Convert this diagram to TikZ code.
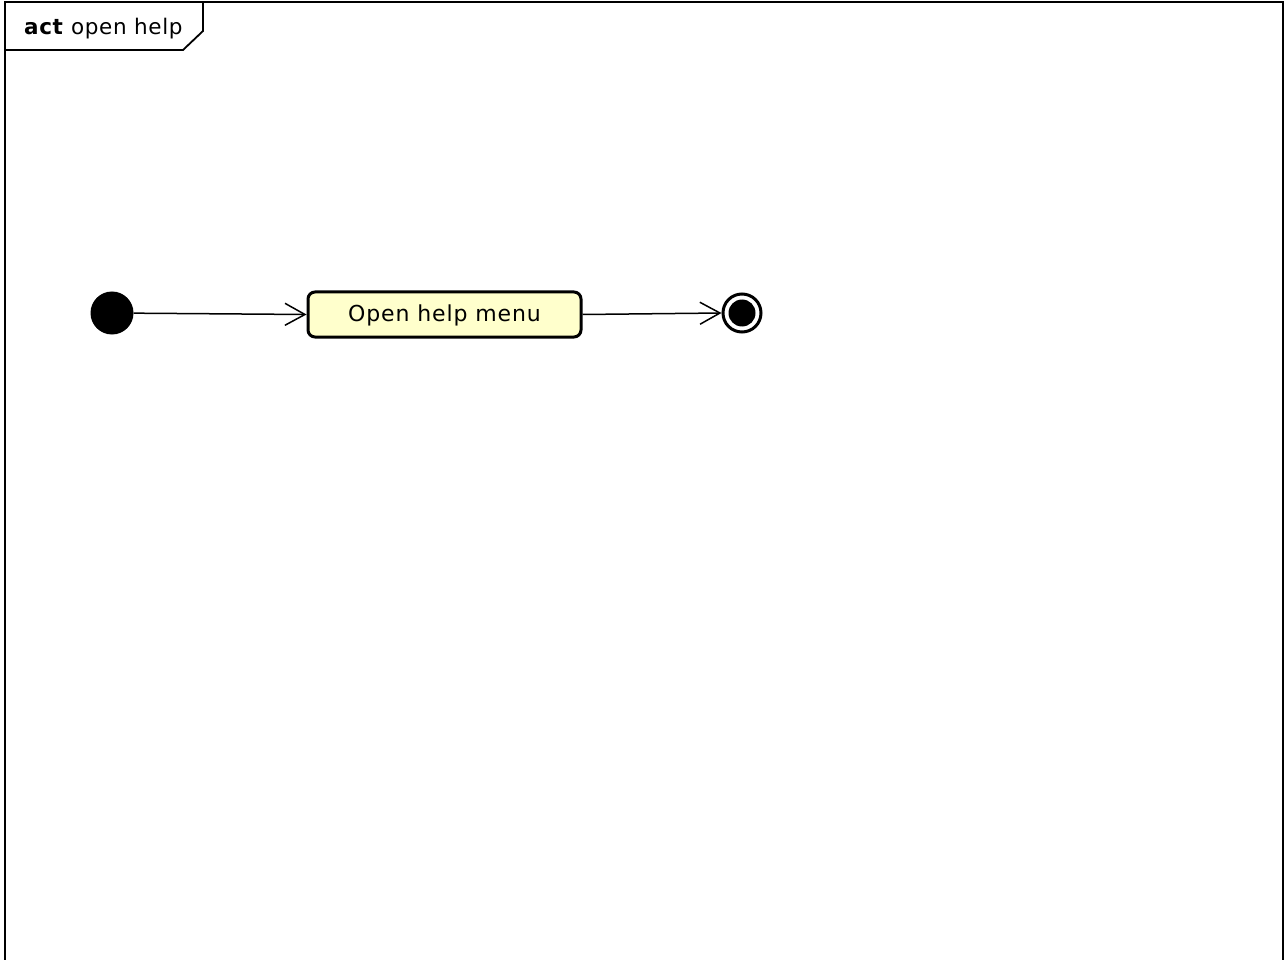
\documentclass[tikz,border=0pt]{standalone}
\usepackage{fontspec}
\setmainfont{DejaVu Sans}
\newfontfamily\spacedfont[LetterSpace=4]{DejaVu Sans}
\newfontfamily\titlefont[LetterSpace=3]{DejaVu Sans}
\usetikzlibrary{arrows.meta}
\definecolor{actfill}{HTML}{FFFFCC}
\tikzset{
  actionbox/.style={draw=black, line width=3pt, fill=actfill, rounded corners=7pt,
    minimum width=273pt, minimum height=45pt, inner sep=0pt, text height=14pt, text depth=0pt,
    font=\spacedfont\fontsize{22}{25}\selectfont},
  initnode/.style={circle, fill=black, minimum size=43pt, inner sep=0pt},
  finalouter/.style={circle, draw=black, line width=3pt, fill=white, minimum size=38pt, inner sep=0pt},
  finalinner/.style={circle, fill=black, minimum size=27pt, inner sep=0pt},
  flow/.style={line width=1.5pt, -{Straight Barb[length=20pt,width=22pt,line width=1.5pt]}},
  framestyle/.style={line width=2pt},
}
\begin{document}
\begin{tikzpicture}[x=1pt,y=-1pt]
\useasboundingbox (0,0) rectangle (1286,960);
% frame
\draw[framestyle] (4.5,960) -- (4.5,2) -- (1283,2) -- (1283,960);
\draw[line width=1.8pt] (4.5,50) -- (183,50) -- (203,31) -- (203,2);
\node[anchor=west, inner sep=0pt, font=\titlefont\fontsize{21.5}{25}\selectfont] (title) at (24,29) {\textbf{act} open help};
% nodes
\node[initnode] (start) at (112,313) {};
\node[actionbox] (open) at (444.5,314.5) {Open help menu};
\node[finalouter] (endo) at (742,313) {};
\node[finalinner] (endi) at (742,313) {};
% flows
\draw[flow] (start) -- (open.west);
\draw[flow] (open.east) -- (endo.west);
\end{tikzpicture}
\end{document}
